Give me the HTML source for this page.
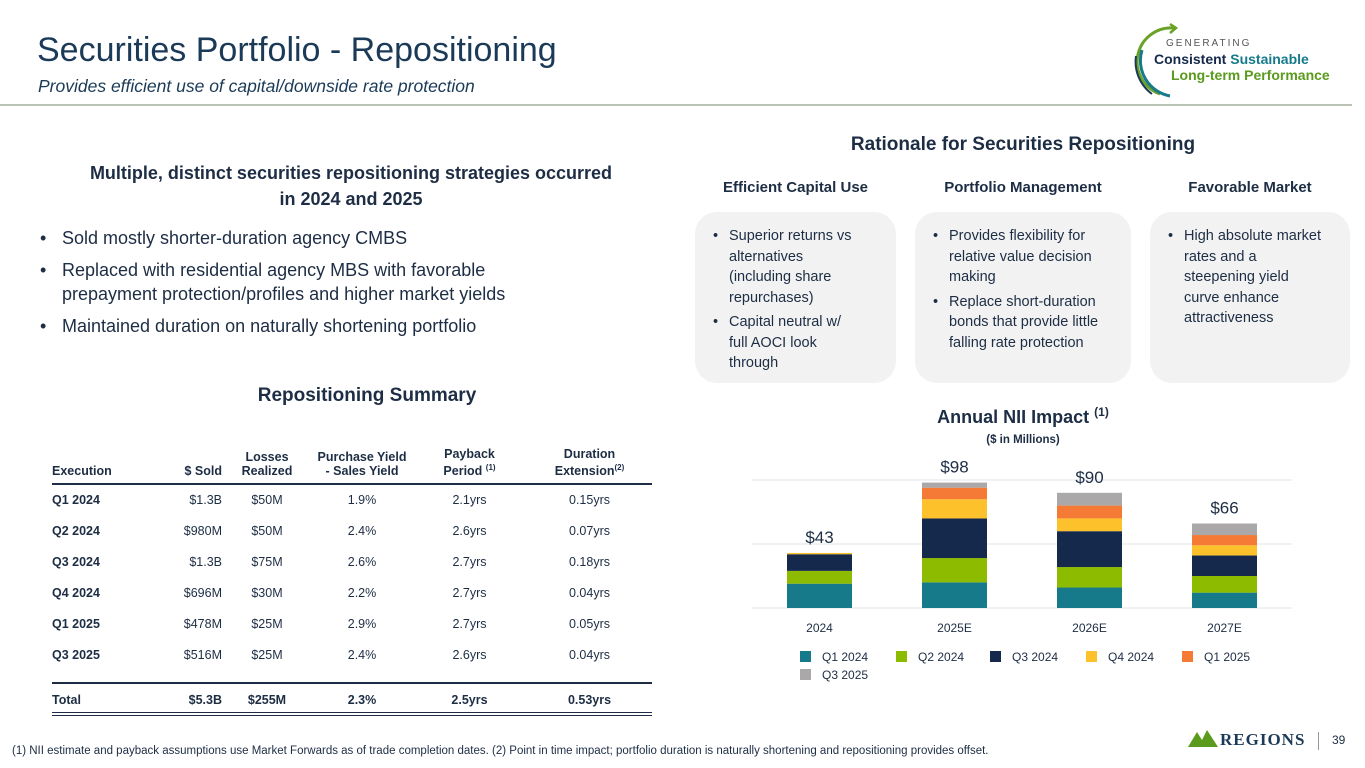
<!DOCTYPE html>
<html><head><meta charset="utf-8">
<style>
*{margin:0;padding:0;box-sizing:border-box}
body{width:1365px;height:768px;background:#fff;font-family:"Liberation Sans",sans-serif;color:#1d2d44;position:relative;overflow:hidden}
.a{position:absolute;white-space:nowrap}
.b{font-weight:bold}
ul{list-style:none}
.box{position:absolute;background:#f2f2f2;border-radius:22px}
.box li,.bl li{position:relative;padding-left:16px;white-space:normal}
.box li:before,.bl li:before{content:"•";position:absolute;left:0}
.box li{font-size:14.5px;line-height:20.5px;margin-bottom:4px;color:#1d2d44}
.bl li{font-size:18px;line-height:24px;margin-bottom:8px;padding-left:22px}
table{position:absolute;left:52px;top:444px;width:600px;border-collapse:collapse;font-size:12.5px}
td,th{height:31px;text-align:center;padding:0}
tr.sp td{height:13px}
tr.tot td{height:31px;vertical-align:bottom;padding-bottom:5px}
th{font-weight:bold;vertical-align:bottom;padding-bottom:5px;line-height:14px;height:40px}
td:first-child,th:first-child{text-align:left;font-weight:bold}
</style></head><body>
<div class="a" style="left:37px;top:31px;font-size:34px;color:#1b3a57">Securities Portfolio - Repositioning</div>
<div class="a" style="left:38px;top:76px;font-size:17.5px;font-style:italic;color:#1b3a57">Provides efficient use of capital/downside rate protection</div>
<div class="a" style="left:0;top:104px;width:1352px;height:2px;background:#b9c2b4"></div>
<div class="a" style="left:1130px;top:20px;width:225px;height:80px">
<svg width="70" height="80" style="position:absolute;left:0;top:0"><path d="M44 8 A34 34 0 0 0 30 74" stroke="#6aa127" stroke-width="3" fill="none"/><path d="M40 4 L46 8 L40 13" stroke="#6aa127" stroke-width="2.5" fill="none"/><path d="M12 30 A36 36 0 0 0 40 76" stroke="#167a8b" stroke-width="3" fill="none"/><path d="M6 36 A40 40 0 0 0 22 74" stroke="#1b3a57" stroke-width="2" fill="none"/></svg>
<div class="a" style="left:36px;top:18px;font-size:10px;letter-spacing:2px;color:#555">GENERATING</div>
<div class="a b" style="left:24px;top:31px;font-size:14px;color:#14294b">Consistent <span style="color:#167a8b">Sustainable</span></div>
<div class="a b" style="left:41px;top:47px;font-size:14px;color:#5a9a1c">Long-term Performance</div>
</div>

<div class="a b" style="left:86px;top:160px;width:530px;text-align:center;white-space:normal;font-size:18px;line-height:26px">Multiple, distinct securities repositioning strategies occurred in 2024 and 2025</div>
<ul class="bl a" style="left:40px;top:226px;width:540px;white-space:normal">
<li>Sold mostly shorter-duration agency CMBS</li>
<li>Replaced with residential agency MBS with favorable prepayment protection/profiles and higher market yields</li>
<li>Maintained duration on naturally shortening portfolio</li></ul>

<div class="a b" style="left:167px;top:385px;width:400px;text-align:center;font-size:19px">Repositioning Summary</div>
<table>
<tr style="border-bottom:2px solid #1d2d44"><th style="width:70px">Execution</th><th style="width:100px;text-align:right">$ Sold</th><th style="width:90px">Losses<br>Realized</th><th style="width:100px">Purchase Yield<br>- Sales Yield</th><th style="width:115px">Payback<br>Period <sup style="font-size:8px">(1)</sup></th><th>Duration<br>Extension<sup style="font-size:8px">(2)</sup></th></tr>
<tr><td>Q1 2024</td><td style="text-align:right">$1.3B</td><td>$50M</td><td>1.9%</td><td>2.1yrs</td><td>0.15yrs</td></tr>
<tr><td>Q2 2024</td><td style="text-align:right">$980M</td><td>$50M</td><td>2.4%</td><td>2.6yrs</td><td>0.07yrs</td></tr>
<tr><td>Q3 2024</td><td style="text-align:right">$1.3B</td><td>$75M</td><td>2.6%</td><td>2.7yrs</td><td>0.18yrs</td></tr>
<tr><td>Q4 2024</td><td style="text-align:right">$696M</td><td>$30M</td><td>2.2%</td><td>2.7yrs</td><td>0.04yrs</td></tr>
<tr><td>Q1 2025</td><td style="text-align:right">$478M</td><td>$25M</td><td>2.9%</td><td>2.7yrs</td><td>0.05yrs</td></tr>
<tr><td>Q3 2025</td><td style="text-align:right">$516M</td><td>$25M</td><td>2.4%</td><td>2.6yrs</td><td>0.04yrs</td></tr>
<tr class="sp" style="border-bottom:2px solid #1d2d44"><td></td><td></td><td></td><td></td><td></td><td></td></tr>
<tr class="tot" style="border-bottom:4px double #1d2d44;font-weight:bold"><td>Total</td><td style="text-align:right">$5.3B</td><td>$255M</td><td>2.3%</td><td>2.5yrs</td><td>0.53yrs</td></tr>
</table>

<div class="a b" style="left:773px;top:134px;width:500px;text-align:center;font-size:19px">Rationale for Securities Repositioning</div>
<div class="a b" style="left:695px;top:179px;width:201px;text-align:center;font-size:15px">Efficient Capital Use</div>
<div class="a b" style="left:915px;top:179px;width:216px;text-align:center;font-size:15px">Portfolio Management</div>
<div class="a b" style="left:1150px;top:179px;width:200px;text-align:center;font-size:15px">Favorable Market</div>
<div class="box" style="left:695px;top:212px;width:201px;height:171px;padding:14px 36px 0 18px"><ul><li>Superior returns vs alternatives (including share repurchases)</li><li>Capital neutral w/ full AOCI look through</li></ul></div>
<div class="box" style="left:915px;top:212px;width:216px;height:171px;padding:14px 28px 0 18px"><ul><li>Provides flexibility for relative value decision making</li><li>Replace short-duration bonds that provide little falling rate protection</li></ul></div>
<div class="box" style="left:1150px;top:212px;width:200px;height:171px;padding:14px 24px 0 18px"><ul><li>High absolute market rates and a steepening yield curve enhance attractiveness</li></ul></div>

<div class="a b" style="left:823px;top:405px;width:400px;text-align:center;font-size:18px">Annual NII Impact <sup style="font-size:12px">(1)</sup></div>
<div class="a b" style="left:823px;top:434px;width:400px;text-align:center;font-size:11.5px">($ in Millions)</div>
<svg id="chart" class="a" style="left:0;top:0" width="1365" height="768"></svg>

<div class="a" style="left:12px;top:745px;font-size:11.5px">(1) NII estimate and payback assumptions use Market Forwards as of trade completion dates. (2) Point in time impact; portfolio duration is naturally shortening and repositioning provides offset.</div>
<div class="a" style="left:1188px;top:728px;width:120px;height:22px">
<svg width="30" height="20" style="position:absolute;left:0;top:0"><polygon points="0,19 9,4 14,12 19,2 30,19" fill="#5a9a1c"/></svg>
<div class="a b" style="left:32px;top:2px;font-family:'Liberation Serif',serif;font-size:17px;letter-spacing:1px;color:#1b3a57">REGIONS</div></div>
<div class="a" style="left:1318px;top:732px;width:1px;height:18px;background:#999"></div>
<div class="a" style="left:1332px;top:733px;font-size:12px">39</div>

<script>
const categories=["2024","2025E","2026E","2027E"];
const seriesNames=["Q1 2024","Q2 2024","Q3 2024","Q4 2024","Q1 2025","Q3 2025"];
const q1_2024=[19,20,16,12];
const q2_2024=[10,19,16,13];
const q3_2024=[13,31,28,16];
const q4_2024=[1,15,10,8];
const q1_2025=[0,9,10,8];
const q3_2025=[0,4,10,9];
const totalLabels=["$43","$98","$90","$66"];
const gridTicks=[0,50,100];
const series=[q1_2024,q2_2024,q3_2024,q4_2024,q1_2025,q3_2025];
const colors=["#167a8b","#8cbb00","#14294b","#fdc12b","#f47a35","#aaa8a8"];
const NS="http://www.w3.org/2000/svg";
const svg=document.getElementById('chart');
const x0=752,x1=1292,yBase=608,pxPer=1.28,barW=65;
const band=(x1-x0)/categories.length;
const xC=i=>x0+band*(i+0.5);
const y=v=>yBase-v*pxPer;
function mk(tag,at){const e=document.createElementNS(NS,tag);for(const k in at)e.setAttribute(k,at[k]);svg.appendChild(e);return e;}
gridTicks.forEach(t=>{const l=mk('line',{x1:x0,x2:x1,y1:y(t),y2:y(t),stroke:'#e2e4ea','stroke-width':1});

});
categories.forEach((c,i)=>{let acc=0;
series.forEach((s,j)=>{const v=s[i];if(v<=0)return;
const r=mk('rect',{x:xC(i)-barW/2,y:y(acc+v),width:barW,height:v*pxPer,fill:colors[j]});


acc+=v;});
const t=mk('text',{x:xC(i),y:y(acc)-10,'text-anchor':'middle','font-size':17,fill:'#1d2d44'});t.textContent=totalLabels[i];


const xl=mk('text',{x:xC(i),y:632,'text-anchor':'middle','font-size':12,fill:'#1d2d44'});xl.textContent=c;

});
const legX=[800,896,990,1086,1182,800],legY=[661,661,661,661,661,679];
seriesNames.forEach((n,j)=>{const r=mk('rect',{x:legX[j],y:legY[j]-10,width:11,height:11,fill:colors[j]});


const t=mk('text',{x:legX[j]+22,y:legY[j],'font-size':12,fill:'#1d2d44'});t.textContent=n;

});
</script>
</body></html>
